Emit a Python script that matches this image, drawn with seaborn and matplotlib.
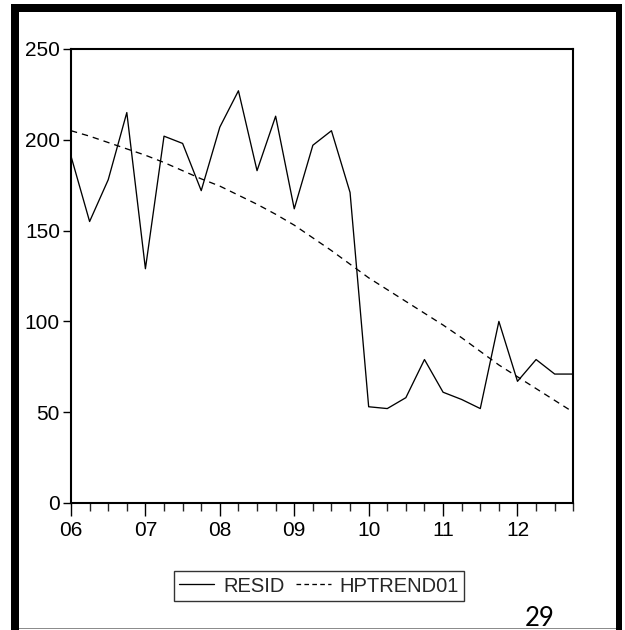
import matplotlib
matplotlib.use("Agg")
import matplotlib.pyplot as plt
from matplotlib.patches import Rectangle
from matplotlib.lines import Line2D
from matplotlib.ticker import FixedLocator, FixedFormatter
from matplotlib import font_manager
import numpy as np
import pandas as pd
import seaborn as sns

# ---- data (quarterly, 2006Q1 .. 2012Q4) ----
quarters = [2006 + i * 0.25 for i in range(28)]
resid = [191, 155, 178, 215, 129, 202, 198, 172, 207, 227, 183, 213, 162, 197,
         205, 171, 53, 52, 58, 79, 61, 57, 52, 100, 67, 79, 71, 71]
hptrend = [205, 202, 198.5, 195, 191.5, 187.5, 183, 178.5, 174.5, 169.5, 164.5,
           159, 153, 146, 139, 131.5, 124, 117.5, 111, 104.5, 98, 91, 83.5, 76,
           69.5, 63, 56.5, 50]
year_ticks = [2006, 2007, 2008, 2009, 2010, 2011, 2012]
year_labels = ["06", "07", "08", "09", "10", "11", "12"]
y_ticks = [0, 50, 100, 150, 200, 250]
series_names = ["RESID", "HPTREND01"]
page_number = "29"

sns.set_style("white")
names = {f.name for f in font_manager.fontManager.ttflist}
narrow = "Liberation Sans Narrow" in names
plt.rcParams["font.family"] = ["Liberation Sans Narrow", "Liberation Sans", "DejaVu Sans"]
tick_fs = 16 if narrow else 15
leg_fs = 17 if narrow else 14.5

W, H = 625, 630
fig = plt.figure(figsize=(W / 100, H / 100), dpi=100)
ax = fig.add_axes([71 / W, 1 - 503 / H, (573.3 - 71) / W, (503 - 49) / H])

df = pd.DataFrame({"q": quarters, "RESID": resid, "HPTREND01": hptrend})
sns.lineplot(data=df, x="q", y="RESID", ax=ax, color="black", linewidth=0.95)
sns.lineplot(data=df, x="q", y="HPTREND01", ax=ax, color="black", linewidth=0.95)
ax.lines[1].set_dashes([4.8, 3.8])

ax.set_xlim(quarters[0], quarters[-1])
ax.set_ylim(0, 250)
ax.set_xlabel("")
ax.set_ylabel("")

ax.xaxis.set_major_locator(FixedLocator(year_ticks))
ax.xaxis.set_major_formatter(FixedFormatter(year_labels))
ax.xaxis.set_minor_locator(FixedLocator(quarters))
ax.set_yticks(y_ticks)
ax.set_yticklabels([str(v) for v in y_ticks])

for s in ax.spines.values():
    s.set_linewidth(1.5)
    s.set_color("black")

ax.tick_params(axis="x", which="major", direction="out", length=9.5, width=1.0,
               labelsize=tick_fs, pad=3.5, colors="black", bottom=True)
ax.tick_params(axis="x", which="minor", direction="out", length=5.5, width=1.0,
               bottom=True)
ax.tick_params(axis="y", which="major", direction="out", length=5.5, width=1.0,
               labelsize=tick_fs, pad=2.5, colors="black", left=True)

handles = [Line2D([], [], color="black", lw=0.95),
           Line2D([], [], color="black", lw=0.95, dashes=[3.5, 2.5])]
leg = fig.legend(handles, series_names, ncol=2, loc="center",
                 bbox_to_anchor=(319 / W, 1 - 586 / H), frameon=True,
                 fontsize=leg_fs, handlelength=1.75, handletextpad=0.45,
                 columnspacing=0.55, borderpad=0.25, borderaxespad=0,
                 fancybox=False, edgecolor="black")
leg.get_frame().set_linewidth(1.0)

# page frame
def rect(x0, y0, x1, y1, color):
    fig.patches.append(Rectangle((x0 / W, 1 - y1 / H), (x1 - x0) / W, (y1 - y0) / H,
                                 transform=fig.transFigure, color=color, lw=0,
                                 zorder=10))

rect(11, 4, 19, 630, "black")
rect(11, 4, 622, 12, "black")
rect(616, 4, 622, 630, "black")
rect(19, 627.5, 616, 628.7, "#8c8c8c")

fig.text(540 / W, 1 - 626.5 / H, page_number, ha="center", va="baseline",
         fontsize=18.5, family=["Lato", "DejaVu Sans"], color="black")

fig.savefig("out.png", dpi=100)
